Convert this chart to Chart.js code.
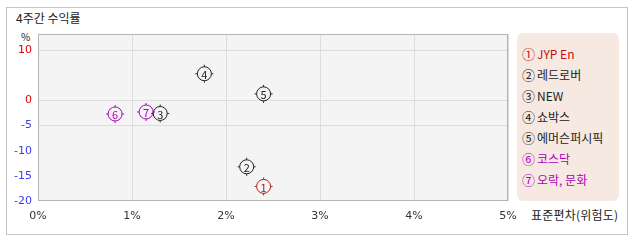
<!DOCTYPE html>
<html>
<head>
<meta charset="utf-8">
<script src="https://cdn.jsdelivr.net/npm/chart.js@4"></script>
<style>
  body { margin: 0; background: #fff; font-family: "Noto Sans CJK KR", "Noto Sans", sans-serif; }
  #wrap { position: relative; width: 638px; height: 242px; }
  #frame { position: absolute; left: 6px; top: 7px; width: 620px; height: 226px; border: 1px solid #c4c4c4; }
  #title { position: absolute; left: 16px; top: 9px; font-size: 12px; color: #222; }
  #pct { position: absolute; left: 21px; top: 29px; font-size: 10px; color: #222; }
  #xtitle { position: absolute; left: 531px; top: 206px; font-size: 12px; color: #222; letter-spacing: 0.2px; }
  #legend { position: absolute; left: 517px; top: 33px; width: 102px; height: 168px; background: #f6e9e2; border-radius: 6px; }
  #legend div { position: absolute; left: 5px; font-size: 12px; white-space: nowrap; }
  #legend span { font-size: 13px; margin-right: 2px; }
  canvas { position: absolute; left: 0; top: 0; }
</style>
</head>
<body>
<div id="wrap">
  <div id="frame"></div>
  <div id="title">4주간 수익률</div>
  <div id="pct">%</div>
  <div id="xtitle">표준편차(위험도)</div>
  <div id="legend"></div>
  <canvas id="chart" width="638" height="242"></canvas>
</div>
<script>
// 데이터
const names   = ["JYP En", "레드로버", "NEW", "쇼박스", "에머슨퍼시픽", "코스닥", "오락, 문화"];
const marks   = ["①", "②", "③", "④", "⑤", "⑥", "⑦"];
const riskX   = [2.40, 2.22, 1.30, 1.77, 2.40, 0.82, 1.15];   // 표준편차 %
const returnY = [-17.1, -13.2, -2.6, 5.3, 1.3, -2.7, -2.3];   // 수익률 %
const colors  = ["#b81818", "#222222", "#222222", "#222222", "#222222", "#b000b8", "#b000b8"];
const legendColors = ["#c01010", "#222222", "#222222", "#222222", "#222222", "#b000c0", "#b000c0"];
const xTicks  = [0, 1, 2, 3, 4, 5];
const yTicks  = [10, 0, -5, -10, -15, -20];
const yGrid   = [10, 0, -5];

// 범례
const legendEl = document.getElementById("legend");
names.forEach((n, i) => {
  const d = document.createElement("div");
  d.style.top = (11 + i * 21) + "px";
  d.style.color = legendColors[i];
  const m = document.createElement("span");
  m.textContent = marks[i];
  d.appendChild(m);
  d.appendChild(document.createTextNode(n));
  legendEl.appendChild(d);
});

// 플롯 배경 + 테두리
const plotBg = {
  id: "plotBg",
  beforeDraw(chart) {
    const { ctx, chartArea: a } = chart;
    ctx.save();
    ctx.fillStyle = "#f4f4f4";
    ctx.fillRect(a.left, a.top, a.right - a.left, a.bottom - a.top);
    ctx.restore();
  },
  afterDraw(chart) {
    const { ctx, chartArea: a } = chart;
    ctx.save();
    ctx.strokeStyle = "#b4b4b4";
    ctx.lineWidth = 1;
    ctx.strokeRect(a.left + 0.5, a.top + 0.5, a.right - a.left - 1, a.bottom - a.top - 1);
    ctx.restore();
  }
};

// 원 번호 마커
const markerLabels = {
  id: "markerLabels",
  afterDatasetsDraw(chart) {
    const ctx = chart.ctx;
    ctx.save();
    chart.data.datasets.forEach((ds, i) => {
      chart.getDatasetMeta(i).data.forEach(pt => {
        const x = pt.x, y = pt.y;
        ctx.strokeStyle = ds.borderColor;
        ctx.lineWidth = 1;
        ctx.beginPath();
        ctx.moveTo(x, y - 7); ctx.lineTo(x, y - 9);
        ctx.moveTo(x, y + 7); ctx.lineTo(x, y + 9);
        ctx.moveTo(x - 7, y); ctx.lineTo(x - 9, y);
        ctx.moveTo(x + 7, y); ctx.lineTo(x + 9, y);
        ctx.stroke();
        ctx.fillStyle = ds.borderColor;
        ctx.font = "11px 'Noto Sans CJK KR', sans-serif";
        ctx.textAlign = "center";
        ctx.textBaseline = "middle";
        ctx.fillText(String(i + 1), x, y + 1);
      });
    });
    ctx.restore();
  }
};

new Chart(document.getElementById("chart"), {
  type: "scatter",
  data: {
    datasets: names.map((n, i) => ({
      label: n,
      data: [{ x: riskX[i], y: returnY[i] }],
      borderColor: colors[i],
      backgroundColor: "rgba(0,0,0,0)",
      pointRadius: 7,
      pointHoverRadius: 7,
      pointBorderWidth: 1
    }))
  },
  options: {
    responsive: false,
    animation: false,
    layout: { padding: { left: 0, top: 34, right: 130, bottom: 0 } },
    plugins: { legend: { display: false }, tooltip: { enabled: false } },
    scales: {
      x: {
        min: 0, max: 5,
        afterBuildTicks: s => { s.ticks = xTicks.map(v => ({ value: v })); },
        afterFit: s => { s.height = 41; },
        grid: { color: "#dcdcdc", drawTicks: false },
        border: { display: false },
        ticks: {
          padding: 9,
          color: "#333",
          font: { size: 11, family: "'DejaVu Sans', sans-serif" },
          callback: v => v + "%"
        }
      },
      y: {
        min: -20, max: 13.2,
        afterBuildTicks: s => { s.ticks = yTicks.map(v => ({ value: v })); },
        afterFit: s => { s.width = 38; },
        grid: {
          drawTicks: false,
          color: c => yGrid.includes(c.tick.value) ? "#dcdcdc" : "rgba(0,0,0,0)"
        },
        border: { display: false },
        ticks: {
          padding: 6,
          font: { size: 11, family: "'DejaVu Sans', sans-serif" },
          color: c => c.tick.value >= 0 ? "#e00000" : "#3c3cf0"
        }
      }
    }
  },
  plugins: [plotBg, markerLabels]
});
</script>
</body>
</html>
